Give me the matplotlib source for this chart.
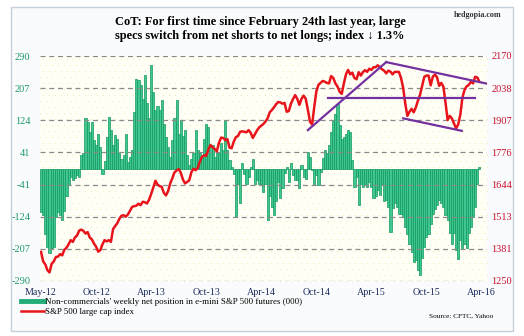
import matplotlib.pyplot as plt
import numpy as np
from matplotlib.lines import Line2D
from matplotlib.patches import Rectangle

# weekly data, May 2012 - Apr 2016
net_pos = [
    -112, -120, -170, -202, -219, -205, -202, -125, -112, -120,
    -133, -110, -70, -42, -22, -30, -25, -17, -22, 34,
    40, 129, 120, 95, 120, 73, 60, 90, 56, -13,
    20, 80, 133, 100, 60, 86, 75, 40, 24, 34,
    90, 18, 30, 47, 145, 230, 228, 215, 180, 240,
    168, 129, 267, 198, 150, 160, 150, 176, 116, 80,
    56, 30, 73, 130, 176, 90, 125, 85, 99, 34,
    9, 25, 39, 99, 47, 39, 35, 77, 116, 107,
    60, 60, 30, 40, 39, 65, 47, 125, 47, 21,
    5, -13, -125, -39, -90, 13, -13, -39, -22, 5,
    25, -39, -30, -39, -40, -60, -40, -133, -70, -99,
    -120, -85, -34, -77, -50, -12, 4, -34, 13, -17,
    -30, -30, -50, 9, -22, -26, 43, 30, -5, -40,
    -17, -43, -9, 28, 47, 39, 60, 95, 125, 140,
    165, 112, 77, 82, 90, 99, 95, 21, -47, -22,
    -95, -39, -47, -43, -47, -34, -47, -77, -70, -56,
    -69, -39, -85, -82, -99, -163, -103, -90, -99, -116,
    -116, -125, -150, -170, -194, -215, -240, -236, -262, -275,
    -230, -202, -176, -168, -142, -116, -105, -95, -82, -90,
    -100, -120, -133, -165, -195, -165, -211, -232, -185, -206,
    -194, -206, -165, -150, -125, -100, -40, 3,
]
spx = [
    1369, 1330, 1318, 1294, 1285, 1320, 1330, 1348, 1350, 1360,
    1355, 1378, 1386, 1400, 1417, 1410, 1428, 1436, 1456, 1460,
    1455, 1444, 1450, 1428, 1420, 1403, 1390, 1370, 1376, 1400,
    1417, 1412, 1417, 1410, 1462, 1475, 1486, 1505, 1517, 1519,
    1513, 1522, 1537, 1553, 1556, 1558, 1566, 1560, 1574, 1572,
    1567, 1582, 1606, 1632, 1660, 1644, 1638, 1635, 1610, 1600,
    1618, 1649, 1670, 1694, 1702, 1708, 1692, 1665, 1649, 1655,
    1662, 1695, 1709, 1703, 1712, 1738, 1758, 1764, 1762, 1788,
    1806, 1797, 1790, 1780, 1815, 1836, 1835, 1826, 1830, 1795,
    1793, 1820, 1838, 1843, 1860, 1862, 1860, 1858, 1867, 1856,
    1835, 1850, 1866, 1878, 1885, 1892, 1902, 1915, 1940, 1949,
    1960, 1973, 1982, 1980, 1975, 1978, 1942, 1945, 1975, 1994,
    2010, 1995, 1970, 1995, 2008, 1995, 1950, 1901, 1890, 1960,
    2025, 2052, 2060, 2068, 2065, 2060, 2058, 2088, 2080, 2058,
    2045, 2024, 2015, 2058, 2095, 2113, 2095, 2102, 2080, 2075,
    2104, 2090, 2104, 2112, 2105, 2118, 2113, 2124, 2124, 2132,
    2124, 2116, 2110, 2099, 2110, 2106, 2095, 2105, 2105, 2105,
    2080, 2040, 1975, 1925, 1942, 1954, 1940, 1960, 1988, 2012,
    2048, 2085, 2090, 2090, 2050, 2085, 2094, 2083, 2048, 2060,
    2045, 1980, 1908, 1925, 1915, 1895, 1874, 1890, 1930, 2000,
    2032, 2046, 2052, 2065, 2058, 2085, 2082, 2065,
]
x_labels = ['May-12', 'Oct-12', 'Apr-13', 'Oct-13', 'Apr-14',
            'Oct-14', 'Apr-15', 'Oct-15', 'Apr-16']
left_labels = ['290', '207', '124', '41', '-41', '-124', '-207', '-290']
right_labels = ['2170', '2038', '1907', '1776', '1644', '1513', '1381', '1250']

# purple trend lines drawn on the index (week, level)
trend_weeks = [[126, 163], [163, 211.6], [135.4, 205], [171, 198.7]]
trend_levels = [[1867, 2145], [2145, 2055], [1997, 1997], [1915, 1864]]

plt.rcParams['font.family'] = ['Liberation Serif', 'DejaVu Serif']

W, H = 524, 336
fig = plt.figure(figsize=(W / 100, H / 100), dpi=100)
fig.patch.set_facecolor('white')

# outer chart box
fig.patches.append(Rectangle((11 / W, 1 - 331 / H), 502 / W, 324 / H,
                             transform=fig.transFigure, facecolor='#fafbfc',
                             edgecolor='#c6d0dc', lw=1, zorder=-10))

ax = fig.add_axes([40 / W, 1 - 281 / H, 447 / W, 225 / H])
ax.set_facecolor('#fffff6')

# dotted background
gx, gy = np.meshgrid(np.arange(0, 1, 6 / 447), np.arange(0, 1, 6 / 225))
gx[1::2] += 3 / 447
ax.scatter(gx.ravel(), gy.ravel(), s=0.35, color='#ece3a8', lw=0,
           transform=ax.transAxes, zorder=0)

weeks = np.arange(len(net_pos))
ax.bar(weeks, net_pos, width=1.0, facecolor='#40c693', edgecolor='#10985a',
       lw=0.5, zorder=1)
ax.set_ylim(-290, 290)
ax.set_xlim(-0.5, 210.6)
ax.set_yticks(np.linspace(290, -290, 8), left_labels)
ax.set_xticks(np.arange(len(x_labels)) * 26, x_labels)
ax.yaxis.grid(True, color='#8a8a8a', lw=0.9, ls=(0, (4, 3)), zorder=2)
ax.set_axisbelow(False)
ax.tick_params(axis='y', length=0, pad=7, labelsize=7.5, labelcolor='#1f9a6a')
ax.tick_params(axis='x', length=0, pad=5, labelsize=7.2, labelcolor='#1c2a5c')
for s in ax.spines.values():
    s.set_visible(False)

ax2 = ax.twinx()
ax2.plot(weeks, spx, color='#e8141c', lw=1.8, zorder=3)
for tw, tl in zip(trend_weeks, trend_levels):
    ax2.plot(tw, tl, color='#7431a0', lw=1.6, zorder=4)
ax2.set_ylim(1250, 2170)
ax2.set_yticks(np.linspace(2170, 1250, 8), right_labels)
ax2.tick_params(axis='y', length=0, pad=3, labelsize=7.5, labelcolor='#c8102e')
for s in ax2.spines.values():
    s.set_visible(False)

# title and texts
fig.text(260 / W, 1 - 22 / H,
         'CoT: For first time since February 24th last year, large',
         ha='center', va='center', fontsize=8.9, fontweight='bold')
fig.text(260 / W, 1 - 36 / H,
         'specs switch from net shorts to net longs; index \u2193 1.3%',
         ha='center', va='center', fontsize=8.9, fontweight='bold')
fig.text(501 / W, 1 - 15 / H, 'hedgopia.com', ha='right', va='center',
         fontsize=5.8, fontweight='bold', color='#333333')
fig.text(493 / W, 1 - 316 / H, 'Source: CFTC, Yahoo', ha='right',
         va='center', fontsize=5.2)

handles = [Line2D([], [], color='#22ae78', lw=3.5),
           Line2D([], [], color='#e8141c', lw=1.8)]
fig.legend(handles,
           ["Non-commercials' weekly net position in e-mini S&P 500 futures (000)",
            'S&P 500 large cap index'],
           loc='upper left', bbox_to_anchor=(21 / W, 1 - 298 / H),
           frameon=False, fontsize=6.4, handlelength=2.6, handletextpad=0.1,
           labelspacing=0.15, borderpad=0, borderaxespad=0)

fig.savefig('out.png', dpi=100)
